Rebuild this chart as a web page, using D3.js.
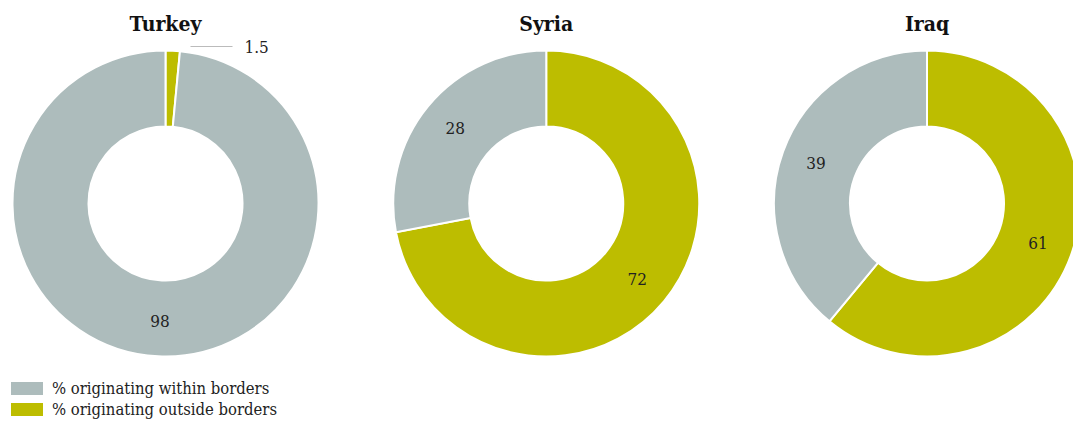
<!DOCTYPE html>
<html><head><meta charset="utf-8">
<script src="https://cdn.jsdelivr.net/npm/d3@7/dist/d3.min.js"></script>
<style>body{margin:0;background:#fff}svg{display:block}</style>
</head><body><svg id="c" width="1073" height="421"></svg>
<script>
const countries = ["Turkey", "Syria", "Iraq"];
const outsideBorders = [1.5, 72, 61];
const withinBorders = [98, 28, 39];
const seriesNames = ["% originating within borders", "% originating outside borders"];
const colors = {within: "#adbcbc", outside: "#bdbd00"};

const svg = d3.select("#c");
const font = "'DejaVu Serif Condensed', 'DejaVu Serif', serif";
const cx = d3.scalePoint().domain(countries).range([165.5, 927]);
const cy = 203.5, outerR = 153, innerR = 77;
const pie = d3.pie().sort(null).value(d => d.v);
const arc = d3.arc().innerRadius(innerR).outerRadius(outerR);
const labelArc = d3.arc().innerRadius(118).outerRadius(118);

countries.forEach((c, i) => {
  const g = svg.append("g").attr("transform", `translate(${cx(c)},${cy})`);
  const data = [{k: "outside", v: outsideBorders[i]}, {k: "within", v: withinBorders[i]}];
  const arcs = pie(data);
  g.selectAll("path").data(arcs).join("path")
    .attr("d", arc).attr("fill", d => colors[d.data.k])
    .attr("stroke", "#fff").attr("stroke-width", 2);
  svg.append("text").attr("x", cx(c)).attr("y", 31).attr("text-anchor", "middle")
    .attr("font-family", font).attr("font-weight", "bold").attr("font-size", 21)
    .attr("fill", "#111").text(c);
  arcs.forEach(a => {
    const span = a.endAngle - a.startAngle;
    if (span < 0.3) {
      const y = -outerR - 4;
      g.append("line").attr("x1", 25).attr("x2", 67).attr("y1", y).attr("y2", y)
        .attr("stroke", "#bbb").attr("stroke-width", 1);
      g.append("text").attr("x", 79).attr("y", y + 6)
        .attr("font-family", font).attr("font-size", 17).attr("fill", "#222").text(a.data.v);
    } else {
      const [x, y] = labelArc.centroid(a);
      g.append("text").attr("x", x).attr("y", y).attr("dy", "0.35em").attr("text-anchor", "middle")
        .attr("font-family", font).attr("font-size", 17).attr("fill", "#222").text(a.data.v);
    }
  });
});

const leg = svg.append("g").attr("transform", "translate(11,382)");
[["within", seriesNames[0]], ["outside", seriesNames[1]]].forEach(([k, t], i) => {
  leg.append("rect").attr("x", 0).attr("y", i * 21).attr("width", 32).attr("height", 13).attr("fill", colors[k]);
  leg.append("text").attr("x", 41).attr("y", i * 21 + 12).attr("font-family", font).attr("font-size", 16.5)
    .attr("fill", "#222").text(t);
});
</script></body></html>
